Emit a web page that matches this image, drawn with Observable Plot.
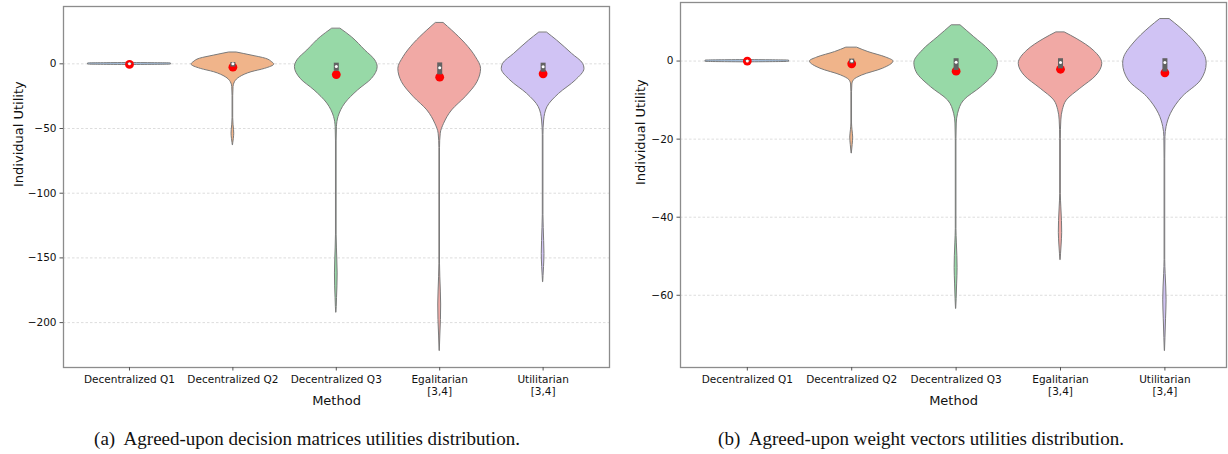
<!DOCTYPE html>
<html><head><meta charset="utf-8">
<script src="https://cdn.jsdelivr.net/npm/d3@7"></script>
<script src="https://cdn.jsdelivr.net/npm/@observablehq/plot@0.6"></script>
<style>
body{margin:0;background:#fff;}
#wrap{display:flex;width:1228px;}
.panel{width:614px;}
.panel svg{display:block;}
.cap{font-family:"Liberation Serif","DejaVu Serif",serif;font-size:19px;text-align:center;margin-top:13px;line-height:22px;color:#111;white-space:pre;}
</style></head><body><div id="wrap"></div>
<script>
// ---- categories & styling palette ----
const categories = ["Decentralized Q1","Decentralized Q2","Decentralized Q3","Egalitarian\n[3,4]","Utilitarian\n[3,4]"];
const violinColors = ["#a9c8ea","#f0b48a","#97d9a7","#f1a9a5","#d0c3f4"];

// ---- panel (a): decision matrices ----
// violin profiles: [utility value, half-width in category units]
const violinA_Q1 = [[0.6,0.0],[0.3,0.40],[-0.6,0.40],[-0.9,0.0]];
const violinA_Q2 = [[8.7,0.04],[6.4,0.18],[3.9,0.32],[1.2,0.38],[-0.5,0.40],[-3.9,0.31],[-6.5,0.18],[-10.3,0.07],[-14.2,0.02],[-18,0.006],[-25,0.003],[-42,0.003],[-47,0.006],[-51,0.011],[-54,0.013],[-58,0.009],[-61,0.004],[-63,0.001]];
const violinA_Q3 = [[27,0.043],[20.6,0.15],[10.3,0.28],[2.6,0.377],[-2.6,0.40],[-11.6,0.345],[-20.6,0.21],[-30.7,0.087],[-41,0.022],[-49,0.006],[-60,0.003],[-132,0.003],[-142,0.006],[-152,0.01],[-162,0.013],[-172,0.011],[-181,0.007],[-188,0.004],[-192.4,0.001]];
const violinA_Eg = [[31.4,0.04],[25.7,0.12],[15.5,0.25],[5.1,0.35],[-3.9,0.40],[-14.2,0.365],[-25.8,0.25],[-36,0.12],[-46.4,0.042],[-54,0.01],[-65,0.003],[-155,0.003],[-165,0.006],[-176,0.011],[-186,0.014],[-198,0.012],[-210,0.006],[-222,0.001]];
const violinA_Ut = [[24,0.04],[18,0.135],[7.7,0.28],[0,0.387],[-3.9,0.40],[-12.9,0.316],[-23.2,0.155],[-33.5,0.042],[-43.8,0.01],[-55,0.003],[-117,0.003],[-127,0.006],[-137,0.01],[-147,0.013],[-157,0.009],[-164,0.004],[-168.8,0.001]];
const meansA = [-0.5,-2.6,-8.3,-10.3,-7.7];
const boxLowA = [-0.6,-2.5,-5.7,-8.5,-6.5];
const boxHighA = [0.4,1.0,0.5,0.7,0.5];
const mediansA = [0,0,-2.1,-3.0,-2.3];
const yTicksA = [-200,-150,-100,-50,0];

// ---- panel (b): weight vectors ----
const violinB_Q1 = [[0.25,0.0],[0.12,0.40],[-0.2,0.40],[-0.33,0.0]];
const violinB_Q2 = [[3.4,0.055],[2.3,0.16],[0.9,0.33],[-0.1,0.40],[-1.95,0.30],[-3.7,0.10],[-4.9,0.022],[-6,0.006],[-8,0.003],[-16,0.003],[-17.6,0.007],[-19.6,0.014],[-21.5,0.009],[-23.7,0.001]];
const violinB_Q3 = [[9.1,0.045],[6.2,0.17],[2.7,0.32],[-0.5,0.40],[-2.8,0.38],[-6.7,0.24],[-10.1,0.077],[-13.5,0.019],[-16,0.006],[-20,0.003],[-43,0.003],[-46.5,0.007],[-50,0.012],[-53,0.014],[-57,0.01],[-61,0.005],[-63.5,0.001]];
const violinB_Eg = [[7.3,0.043],[5.7,0.154],[2.7,0.317],[-0.7,0.40],[-3.7,0.346],[-7.1,0.19],[-10.1,0.06],[-12.6,0.022],[-15.2,0.008],[-20,0.003],[-34,0.003],[-37.5,0.008],[-41,0.014],[-44,0.016],[-47,0.011],[-49.5,0.005],[-51,0.001]];
const violinB_Ut = [[10.7,0.048],[8.7,0.14],[4.5,0.30],[0.6,0.394],[-0.7,0.40],[-5,0.346],[-9.2,0.17],[-13.5,0.058],[-16.9,0.016],[-19.5,0.005],[-25,0.003],[-51,0.003],[-54.5,0.007],[-58,0.013],[-61.3,0.016],[-66,0.011],[-71,0.005],[-74.3,0.001]];
const meansB = [0,-0.7,-2.6,-2.1,-3.0];
const boxLowB = [-0.15,-0.7,-2.4,-2.0,-2.8];
const boxHighB = [0.15,0.5,0.6,0.6,0.6];
const mediansB = [0,0,-0.3,-0.4,-0.4];
const yTicksB = [-60,-40,-20,0];

function makePanel(o) {
  const idx = categories.map((_, i) => i);
  const violinMarks = o.profiles.map((prof, i) =>
    Plot.areaX(prof, {
      y: d => d[0],
      x1: d => i - d[1],
      x2: d => i + d[1],
      curve: "monotone-y",
      fill: violinColors[i],
      stroke: "#7a7a7a",
      strokeWidth: 1
    })
  );
  const plot = Plot.plot({
    width: 614,
    height: 415,
    marginTop: o.mt, marginBottom: 48, marginLeft: o.ml, marginRight: o.mr,
    style: {fontFamily: "DejaVu Sans, sans-serif", fontSize: "10.5px", color: "#111", background: "#fff"},
    x: {domain: o.xDomain},
    y: {domain: o.yDomain},
    marks: [
      Plot.gridY(o.yTicks, {stroke: "#cfcfcf", strokeOpacity: 1, strokeDasharray: "2.5,2", strokeWidth: 0.7}),
      ...violinMarks,
      Plot.dot(idx, {x: i => i, y: i => o.means[i], r: 4.4, fill: "#ff0000", stroke: "none"}),
      Plot.ruleX(idx, {x: i => i, y1: i => o.boxLow[i], y2: i => o.boxHigh[i], stroke: "#626262", strokeWidth: 5}),
      Plot.dot(idx, {x: i => i, y: i => o.medians[i], r: 1.5, fill: "#fff", stroke: "none"}),
      Plot.frame({stroke: "#8c8c8c", strokeWidth: 1.3}),
      Plot.axisY(o.yTicks, {tickSize: 3.5, tickPadding: 3.5, fontSize: 10.5, label: null, stroke: "#555"}),
      Plot.axisX(idx, {tickFormat: i => categories[i], tickSize: 3.5, tickPadding: 3, fontSize: 10.5, lineHeight: 1.18, label: null, stroke: "#555"}),
      Plot.text(["Individual Utility"], {frameAnchor: "left", dx: o.ylabDx, rotate: -90, fontSize: 13, fill: "#111"}),
      Plot.text(["Method"], {frameAnchor: "bottom", dy: 37, fontSize: 13, fill: "#111"})
    ]
  });
  const div = document.createElement("div");
  div.className = "panel";
  div.appendChild(plot);
  const cap = document.createElement("div");
  cap.className = "cap";
  cap.textContent = o.caption;
  div.appendChild(cap);
  document.getElementById("wrap").appendChild(div);
}

makePanel({
  profiles: [violinA_Q1, violinA_Q2, violinA_Q3, violinA_Eg, violinA_Ut],
  means: meansA, boxLow: boxLowA, boxHigh: boxHighA, medians: mediansA,
  yTicks: yTicksA, yDomain: [-234.7, 44.3], xDomain: [-0.638, 4.642],
  mt: 6, ml: 63, mr: 5, ylabDx: -45,
  caption: "(a)  Agreed-upon decision matrices utilities distribution."
});
makePanel({
  profiles: [violinB_Q1, violinB_Q2, violinB_Q3, violinB_Eg, violinB_Ut],
  means: meansB, boxLow: boxLowB, boxHigh: boxHighB, medians: mediansB,
  yTicks: yTicksB, yDomain: [-78.5, 15.0], xDomain: [-0.64, 4.59],
  mt: 2, ml: 66, mr: 2, ylabDx: -40,
  caption: "(b)  Agreed-upon weight vectors utilities distribution."
});
</script>
</body></html>
